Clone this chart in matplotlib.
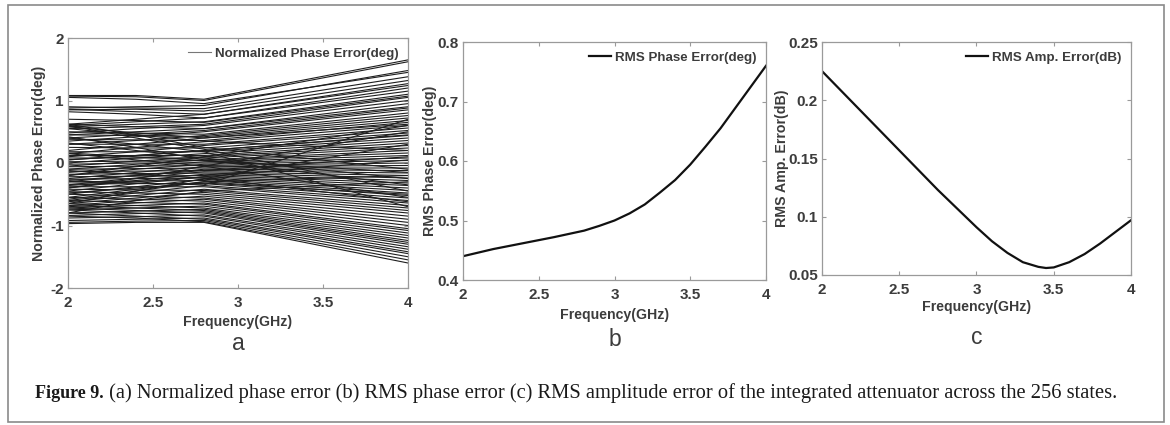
import matplotlib
matplotlib.use("Agg")
import matplotlib.pyplot as plt

# ---------------- data ----------------
# Panel a: normalized phase error of attenuator states (deg), read at four frequencies
freq_a = [2.0, 2.4, 2.8, 4.0]
phase_2p0 = [1.08, 1.07, 0.88, 1.05, 0.90, 0.85, 0.62, 0.86, 0.60, 0.82, 0.58, 0.70, 0.55, 0.48,
             0.45, 0.62, 0.40, 0.35, 0.50, 0.30, 0.45, 0.20, 0.38, 0.15, 0.30, 0.10, 0.25, 0.05,
             0.18, 0.00, 0.12, -0.05, 0.08, -0.10, 0.02, -0.15, -0.02, -0.20, -0.06, -0.25, -0.10,
             -0.30, -0.14, -0.35, -0.18, -0.40, -0.22, -0.45, -0.26, -0.50, -0.30, -0.55, -0.34,
             -0.60, -0.38, -0.62, -0.42, -0.65, -0.46, -0.68, -0.50, -0.70, -0.55, -0.72, -0.60,
             -0.75, -0.65, -0.80, -0.68, -0.84, -0.72, -0.88, -0.75, -0.92, -0.80, -0.95, -0.85,
             -0.97, 0.62, 0.42, -0.65, -0.40, 0.15, -0.20, 0.55, -0.80, 0.60, 0.40, -0.30, -0.58,
             0.58, 0.16, -0.28, -0.48, 0.32, -0.12, -0.36, 0.05]
phase_2p4 = [1.08, 1.06, 0.90, 1.02, 0.88, 0.86, 0.70, 0.82, 0.66, 0.78, 0.62, 0.68, 0.58, 0.55,
             0.50, 0.58, 0.46, 0.42, 0.48, 0.36, 0.44, 0.30, 0.37, 0.25, 0.30, 0.18, 0.24, 0.12,
             0.18, 0.08, 0.12, 0.03, 0.08, -0.02, 0.03, -0.06, 0.00, -0.10, -0.05, -0.15, -0.09,
             -0.20, -0.13, -0.24, -0.17, -0.28, -0.21, -0.33, -0.25, -0.38, -0.29, -0.42, -0.33,
             -0.48, -0.38, -0.52, -0.43, -0.56, -0.48, -0.60, -0.53, -0.64, -0.58, -0.68, -0.63,
             -0.72, -0.68, -0.77, -0.72, -0.81, -0.76, -0.86, -0.80, -0.90, -0.85, -0.93, -0.88,
             -0.95, 0.45, 0.25, -0.45, -0.25, 0.05, -0.05, 0.45, -0.60, 0.40, 0.30, -0.32, -0.45,
             0.48, 0.10, -0.20, -0.40, 0.20, -0.18, -0.30, 0.12]
phase_2p8 = [1.02, 1.00, 0.92, 0.95, 0.87, 0.83, 0.78, 0.78, 0.72, 0.72, 0.66, 0.65, 0.62, 0.60,
             0.55, 0.55, 0.52, 0.50, 0.46, 0.44, 0.42, 0.40, 0.36, 0.34, 0.30, 0.28, 0.24, 0.20,
             0.18, 0.15, 0.12, 0.10, 0.08, 0.05, 0.04, 0.02, 0.00, -0.02, -0.04, -0.06, -0.08,
             -0.10, -0.12, -0.14, -0.16, -0.18, -0.20, -0.22, -0.24, -0.26, -0.28, -0.30, -0.33,
             -0.36, -0.38, -0.42, -0.44, -0.47, -0.50, -0.53, -0.56, -0.58, -0.61, -0.64, -0.66,
             -0.69, -0.72, -0.74, -0.76, -0.78, -0.80, -0.83, -0.85, -0.88, -0.90, -0.92, -0.94,
             -0.95, 0.25, 0.05, -0.25, -0.05, -0.05, 0.10, 0.35, -0.45, 0.22, 0.18, -0.35, -0.30,
             0.40, 0.04, -0.12, -0.32, 0.08, -0.24, -0.22, 0.20]
phase_4p0 = [1.65, 1.62, 1.48, 1.45, 1.38, 1.32, 1.27, 1.24, 1.20, 1.15, 1.10, 1.07, 1.05, 1.00,
             0.95, 0.90, 0.88, 0.85, 0.80, 0.76, 0.72, 0.68, 0.65, 0.60, 0.56, 0.52, 0.48, 0.44,
             0.40, 0.36, 0.32, 0.28, 0.24, 0.20, 0.16, 0.12, 0.08, 0.04, 0.00, -0.04, -0.08,
             -0.12, -0.16, -0.20, -0.24, -0.28, -0.32, -0.36, -0.40, -0.44, -0.48, -0.52, -0.56,
             -0.60, -0.64, -0.68, -0.72, -0.76, -0.80, -0.85, -0.90, -0.95, -1.00, -1.05, -1.08,
             -1.12, -1.16, -1.20, -1.24, -1.27, -1.30, -1.34, -1.38, -1.42, -1.45, -1.50, -1.55,
             -1.60, -0.10, -0.35, 0.30, 0.50, -0.55, 0.60, 0.20, -0.30, -0.45, -0.70, 0.70, -0.20,
             0.62, -0.15, 0.10, -0.50, -0.25, -0.62, 0.05, 0.45]

# Panel b: RMS phase error (deg)
freq_b = [2.0, 2.2, 2.4, 2.5, 2.6, 2.8, 2.9, 3.0, 3.1, 3.2, 3.3, 3.4, 3.5, 3.6, 3.7, 3.8, 3.9, 4.0]
rms_phase = [0.440, 0.452, 0.462, 0.467, 0.472, 0.483, 0.491, 0.500, 0.512, 0.527, 0.547,
             0.568, 0.594, 0.624, 0.655, 0.690, 0.725, 0.760]

# Panel c: RMS amplitude error (dB)
freq_c = [2.0, 2.25, 2.5, 2.75, 3.0, 3.1, 3.2, 3.3, 3.4, 3.45, 3.5, 3.6, 3.7, 3.8, 3.9, 4.0]
rms_amp = [0.225, 0.191, 0.157, 0.123, 0.091, 0.079, 0.069, 0.061, 0.057, 0.056, 0.0565,
           0.061, 0.068, 0.077, 0.087, 0.097]

xticks = [2, 2.5, 3, 3.5, 4]
xticklabels = ["2", "2.5", "3", "3.5", "4"]
yticks_a = [-2, -1, 0, 1, 2]
yticks_b = [0.4, 0.5, 0.6, 0.7, 0.8]
yticks_c = [0.05, 0.1, 0.15, 0.2, 0.25]

caption_bold = "Figure 9."
caption_text = (" (a) Normalized phase error (b) RMS phase error (c) RMS amplitude error of "
                "the integrated attenuator across the 256 states.")

# ---------------- plotting ----------------
W, H = 1170, 425
fig = plt.figure(figsize=(W / 100, H / 100), dpi=100)
fig.patch.set_facecolor("white")

TXT = "#3c3c3c"
SP = "#9a9a9a"
plt.rcParams["font.family"] = ["Liberation Sans", "DejaVu Sans"]


def ax_at(l, t, r, b):
    return fig.add_axes([l / W, 1 - b / H, (r - l) / W, (b - t) / H])


def style(ax, yticks, ylabel, sub, ylab_x, xlab_y, sub_y):
    ax.set_xlim(2, 4)
    ax.set_xticks(xticks)
    ax.set_xticklabels(xticklabels)
    ax.set_ylim(yticks[0], yticks[-1])
    ax.set_yticks(yticks)
    ax.set_yticklabels([f"{v:g}" for v in yticks])
    for s in ax.spines.values():
        s.set_color(SP)
        s.set_linewidth(0.9)
    ax.tick_params(direction="in", length=3, width=0.8, color=SP, top=True, right=True,
                   labelsize=11, labelcolor=TXT)
    ax.tick_params(axis="x", pad=6)
    ax.tick_params(axis="y", pad=3)
    for lab in ax.get_xticklabels() + ax.get_yticklabels():
        lab.set_fontweight("bold")
    ax.set_xlabel("Frequency(GHz)", fontsize=10.2, fontweight="bold", color=TXT)
    ax.xaxis.set_label_coords(0.5, xlab_y)
    ax.xaxis.label.set_va("center")
    ax.set_ylabel(ylabel, fontsize=10.2, fontweight="bold", color=TXT)
    ax.yaxis.set_label_coords(ylab_x, 0.5)
    ax.yaxis.label.set_va("center")
    ax.text(0.5, sub_y, sub, transform=ax.transAxes, ha="center", va="center",
            fontsize=16.5, color=TXT)
    leg = ax.legend(loc="upper right", frameon=False, fontsize=9.6, handlelength=1.7,
                    handletextpad=0.3, borderaxespad=0.3)
    for t in leg.get_texts():
        t.set_fontweight("bold")
        t.set_color(TXT)


# Panel a
ax1 = ax_at(68, 38, 408, 288)
for i in range(len(phase_2p0)):
    ys = [phase_2p0[i], phase_2p4[i], phase_2p8[i], phase_4p0[i]]
    ax1.plot(freq_a, ys, color="#1e1e1e", lw=0.8,
             label="Normalized Phase Error(deg)" if i == 0 else None)
style(ax1, yticks_a, "Normalized Phase Error(deg)", "a", -0.085, -0.136, -0.22)
h = ax1.get_legend().legend_handles[0]
h.set_color("#777777")

# Panel b
ax2 = ax_at(463, 42, 766, 280)
ax2.plot(freq_b, rms_phase, color="#111111", lw=1.6, label="RMS Phase Error(deg)")
style(ax2, yticks_b, "RMS Phase Error(deg)", "b", -0.109, -0.147, -0.252)

# Panel c
ax3 = ax_at(822, 42, 1131, 275)
ax3.plot(freq_c, rms_amp, color="#111111", lw=1.6, label="RMS Amp. Error(dB)")
style(ax3, yticks_c, "RMS Amp. Error(dB)", "c", -0.129, -0.137, -0.27)

# Outer frame
frame = plt.Rectangle((8 / W, 1 - 422 / H), (1164 - 8) / W, (422 - 5) / H,
                      transform=fig.transFigure, fill=False, edgecolor="#8a8a8a", lw=1.2)
fig.add_artist(frame)

# Caption
t1 = fig.text(35 / W, 1 - 393 / H, caption_bold, fontsize=13, fontweight="bold",
              family="Liberation Serif", color="#1a1a1a", va="center", ha="left")
fig.canvas.draw()
bb = t1.get_window_extent()
fig.text(bb.x1 / W, 1 - 393 / H, caption_text, fontsize=14.8, family="Liberation Serif",
         color="#1a1a1a", va="center", ha="left")

fig.savefig("out.png", dpi=100, facecolor="white")
